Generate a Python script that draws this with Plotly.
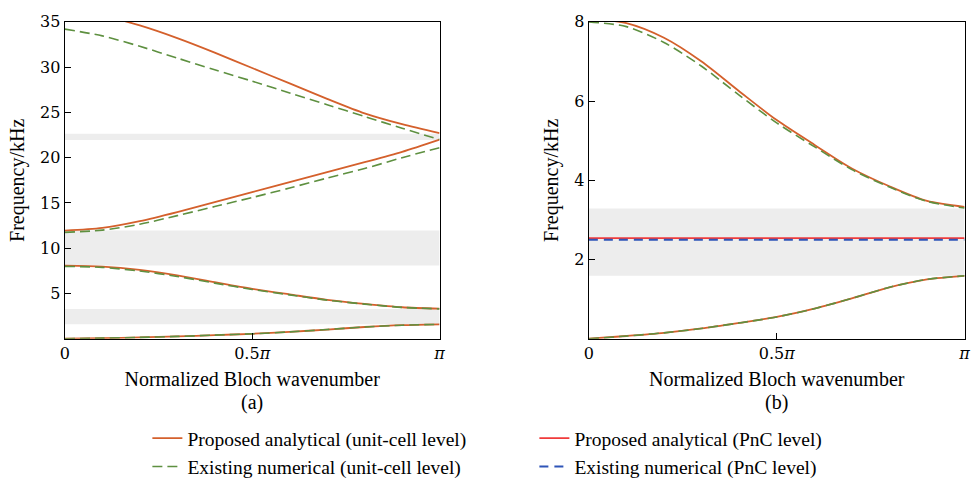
import plotly.graph_objects as go
from plotly.subplots import make_subplots

# Normalized Bloch wavenumber (fraction of pi)
k = [0.0, 0.1, 0.2, 0.3, 0.4, 0.5, 0.6, 0.7, 0.8, 0.9, 1.0]

# Unit-cell level, proposed analytical (kHz)
prop_band1 = [0.0, 0.07, 0.15, 0.26, 0.40, 0.55, 0.76, 1.02, 1.30, 1.50, 1.59]
prop_band2 = [8.08, 7.97, 7.60, 7.00, 6.25, 5.52, 4.90, 4.30, 3.85, 3.48, 3.33]
prop_band3 = [11.95, 12.25, 13.0, 14.0, 15.1, 16.2, 17.3, 18.4, 19.5, 20.65, 22.0]
prop_band4 = [36.3, 35.7, 34.6, 33.2, 31.6, 29.9, 28.2, 26.5, 24.9, 23.7, 22.7]

# Unit-cell level, existing numerical (kHz)
num_band1 = [0.0, 0.07, 0.15, 0.26, 0.40, 0.55, 0.76, 1.02, 1.30, 1.50, 1.59]
num_band2 = [8.00, 7.88, 7.48, 6.88, 6.15, 5.45, 4.85, 4.27, 3.83, 3.47, 3.30]
num_band3 = [11.75, 12.0, 12.65, 13.6, 14.6, 15.6, 16.65, 17.75, 18.8, 20.0, 21.1]
num_band4 = [34.2, 33.45, 32.3, 31.0, 29.7, 28.45, 27.15, 25.85, 24.55, 23.25, 22.0]

# PnC level (flat bands, kHz)
prop_pnc = [2.54] * len(k)
num_pnc = [2.50] * len(k)

# Band gaps (kHz): (lower, upper)
gaps_a = [(1.59, 3.30), (8.08, 11.95), (21.95, 22.65)]
gaps_b = [(1.59, 3.29)]

x_tickvals = [0, 0.5, 1]
x_ticktext = ["0", "0.5<i>π</i>", "<i>π</i>"]
ya_ticks = [5, 10, 15, 20, 25, 30, 35]
yb_ticks = [2, 4, 6, 8]

C_PROP = "#d4602c"
C_NUM = "#5e9040"
C_PNC_PROP = "#f03a3a"
C_PNC_NUM = "#2f55b8"
F_TICK = "DejaVu Serif"
F_TEXT = "Liberation Serif"

fig = make_subplots(rows=1, cols=2)

def add_band(y, col, name, color, dash, show, rank):
    fig.add_trace(go.Scatter(
        x=k, y=y, mode="lines", name=name, showlegend=show, legendrank=rank,
        legendgroup=name,
        line=dict(color=color, width=1.8 if dash is None else 1.6, dash=dash, shape="spline", smoothing=0.8),
        hoverinfo="skip"), row=1, col=col)

dash_g = "10px,5px"
for i, b in enumerate([prop_band1, prop_band2, prop_band3, prop_band4]):
    add_band(b, 1, "Proposed analytical (unit-cell level)", C_PROP, None, i == 0, 1)
for i, b in enumerate([num_band1, num_band2, num_band3, num_band4]):
    add_band(b, 1, "Existing numerical (unit-cell level)", C_NUM, dash_g, i == 0, 3)
for b in [prop_band1, prop_band2]:
    add_band(b, 2, "Proposed analytical (unit-cell level)", C_PROP, None, False, 1)
for b in [num_band1, num_band2]:
    add_band(b, 2, "Existing numerical (unit-cell level)", C_NUM, dash_g, False, 3)

fig.add_trace(go.Scatter(x=k, y=prop_pnc, mode="lines", name="Proposed analytical (PnC level)",
                         legendrank=2, line=dict(color=C_PNC_PROP, width=1.6), hoverinfo="skip"),
              row=1, col=2)
fig.add_trace(go.Scatter(x=k, y=num_pnc, mode="lines", name="Existing numerical (PnC level)",
                         legendrank=4, line=dict(color=C_PNC_NUM, width=2, dash="9px,6px"), hoverinfo="skip"),
              row=1, col=2)

for lo, hi in gaps_a:
    fig.add_shape(type="rect", xref="x", yref="y", x0=0, x1=1, y0=lo, y1=hi,
                  fillcolor="#ededed", line_width=0, layer="below")
for lo, hi in gaps_b:
    fig.add_shape(type="rect", xref="x2", yref="y2", x0=0, x1=1, y0=lo, y1=hi,
                  fillcolor="#ededed", line_width=0, layer="below")

W, H = 976, 486
ax_common = dict(showline=True, linecolor="black", linewidth=1.3, mirror=True, ticks="inside",
                 ticklen=6, tickcolor="black", showgrid=False, zeroline=False,
                 tickfont=dict(family=F_TICK, size=16, color="black"))

fig.update_xaxes(range=[0, 1], tickvals=x_tickvals, ticktext=x_ticktext,
                 title=dict(text="Normalized Bloch wavenumber", font=dict(family=F_TEXT, size=20, color="black"),
                            standoff=9), **ax_common)
fig.update_yaxes(title=dict(text="Frequency/kHz", font=dict(family=F_TEXT, size=20, color="black"),
                            standoff=10), **ax_common)
fig.update_yaxes(range=[0, 35], tickvals=ya_ticks, row=1, col=1)
fig.update_yaxes(range=[0, 8], tickvals=yb_ticks, row=1, col=2)

y0 = (H - 341) / H
y1 = (H - 13.3) / H
fig.update_layout(
    width=W, height=H,
    margin=dict(l=0, r=0, t=0, b=0),
    paper_bgcolor="white", plot_bgcolor="white",
    font=dict(family=F_TEXT, size=19, color="black"),
    xaxis=dict(domain=[60.5 / W, 439.5 / W]),
    xaxis2=dict(domain=[590.5 / W, 970.5 / W]),
    yaxis=dict(domain=[y0, y1]),
    yaxis2=dict(domain=[y0, y1]),
    legend=dict(orientation="h", x=144 / W, xanchor="left", y=(H - 424) / H, yanchor="top",
                entrywidth=342, font=dict(family=F_TEXT, size=19.5, color="black"),
                bgcolor="rgba(0,0,0,0)", tracegroupgap=0, itemwidth=30),
    annotations=[
        dict(text="(a)", x=250 / W, y=(H - 407) / H, xref="paper", yref="paper", showarrow=False,
             xanchor="center", yanchor="middle", font=dict(family=F_TEXT, size=20, color="black")),
        dict(text="(b)", x=780 / W, y=(H - 407) / H, xref="paper", yref="paper", showarrow=False,
             xanchor="center", yanchor="middle", font=dict(family=F_TEXT, size=20, color="black")),
    ],
)

fig.write_html("out.html")
